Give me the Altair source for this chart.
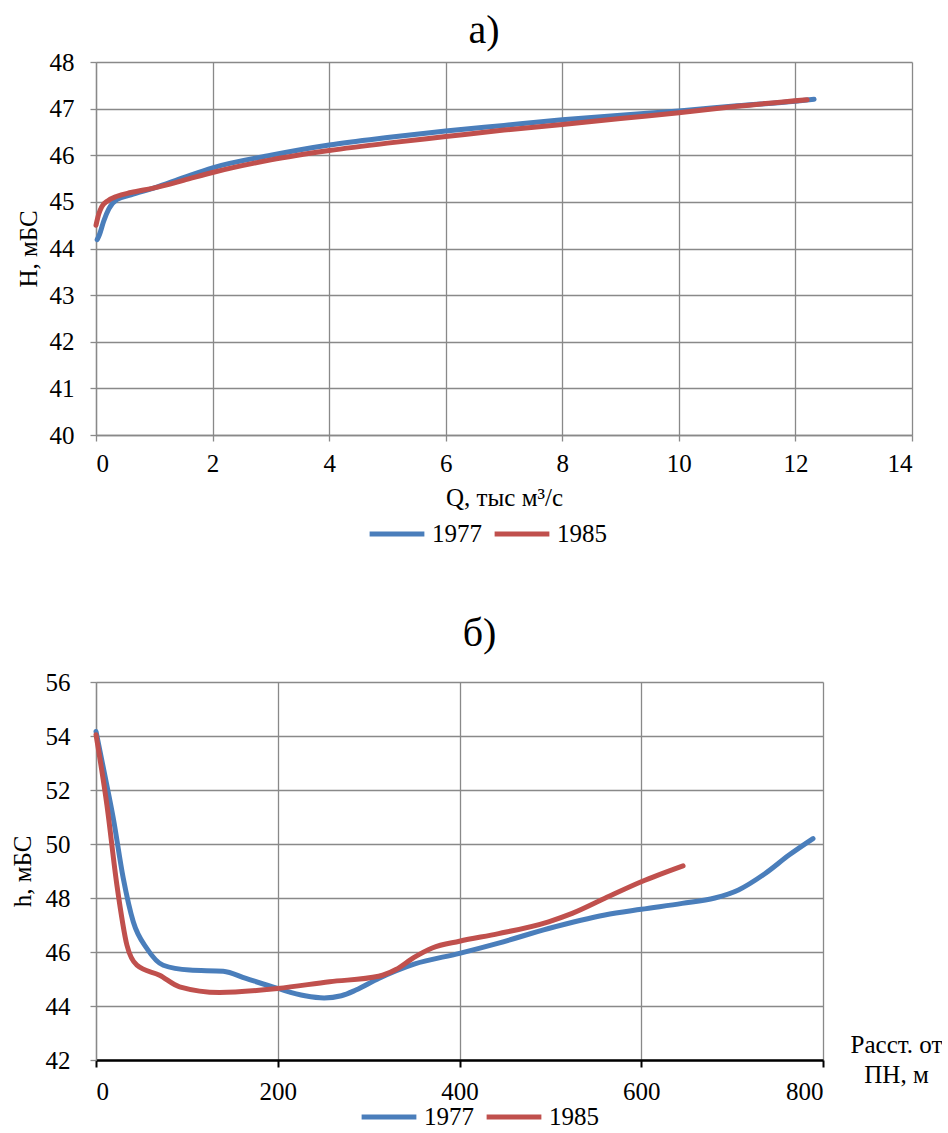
import altair as alt
import pandas as pd

FONT = "Liberation Serif"
BLUE = "#4A7EBB"
RED = "#C0504D"
GRID = "#898989"

# ---- chart a) : H(Q) ----
q_1977 = [0.02, 0.06, 0.13, 0.22, 0.36, 0.6, 1.0, 1.5, 2.0, 3.0, 4.0, 5.0, 6.0,
          7.0, 8.0, 9.0, 10.0, 11.0, 12.0, 12.32]
h_1977 = [44.19, 44.3, 44.58, 44.85, 45.05, 45.15, 45.3, 45.52, 45.73, 46.0,
          46.22, 46.38, 46.52, 46.64, 46.76, 46.86, 46.95, 47.06, 47.16, 47.2]
q_1985 = [0.0, 0.05, 0.1, 0.2, 0.36, 0.6, 1.0, 1.5, 2.0, 3.0, 4.0, 5.0, 6.0,
          7.0, 8.0, 9.0, 10.0, 11.0, 12.2]
h_1985 = [44.5, 44.75, 44.9, 45.02, 45.12, 45.2, 45.3, 45.46, 45.63, 45.9,
          46.1, 46.26, 46.4, 46.54, 46.66, 46.79, 46.91, 47.05, 47.19]

# ---- chart б) : h(distance) ----
d_1977 = [0, 10, 19, 30, 41, 56, 74, 103, 140, 165, 200, 230, 251, 270, 286,
          311, 350, 400, 443, 498, 560, 600, 645, 681, 707, 736, 763, 789]
w_1977 = [54.17, 52.5, 50.96, 48.73, 47.12, 46.13, 45.51, 45.33, 45.29, 45.02,
          44.65, 44.38, 44.3, 44.38, 44.59, 45.02, 45.55, 45.95, 46.33, 46.87,
          47.37, 47.58, 47.8, 48.0, 48.3, 48.9, 49.6, 50.2]
d_1985 = [0, 12, 23, 34, 45, 70, 92, 136, 200, 257, 311, 330, 350, 370, 400,
          443, 498, 524, 560, 600, 646]
w_1985 = [54.05, 51.45, 48.48, 46.26, 45.51, 45.14, 44.71, 44.5, 44.65, 44.9,
          45.1, 45.35, 45.8, 46.15, 46.4, 46.68, 47.12, 47.43, 47.99, 48.6, 49.19]

series = ["1977", "1985"]

top_a = pd.DataFrame({"Q": q_1977, "H": h_1977, "series": "1977"})
top_b = pd.DataFrame({"Q": q_1985, "H": h_1985, "series": "1985"})
bot_a = pd.DataFrame({"D": d_1977, "h": w_1977, "series": "1977"})
bot_b = pd.DataFrame({"D": d_1985, "h": w_1985, "series": "1985"})


def legend(x, y):
    return alt.Legend(title=None, orient="none", legendX=x, legendY=y,
                      direction="horizontal", symbolType="stroke",
                      symbolStrokeWidth=5, symbolSize=3000,
                      labelFont=FONT, labelFontSize=25, labelColor="black",
                      labelOffset=5, columnPadding=2)


def line_layer(df, xf, yf, xscale, yscale, xaxis, yaxis, leg):
    return alt.Chart(df).mark_line(strokeWidth=5, strokeCap="round",
                                   interpolate="monotone").encode(
        x=alt.X(xf, type="quantitative", scale=xscale, axis=xaxis),
        y=alt.Y(yf, type="quantitative", scale=yscale, axis=yaxis),
        color=alt.Color("series:N",
                        scale=alt.Scale(domain=series, range=[BLUE, RED]),
                        legend=leg),
    )


common_axis = dict(labelFont=FONT, labelFontSize=25, labelColor="black",
                   titleFont=FONT, titleFontSize=25, titleFontWeight="normal",
                   titleColor="black", gridColor=GRID, gridWidth=1.3,
                   tickColor=GRID, tickWidth=1.3, domainColor=GRID,
                   domainWidth=1.3)

# top chart
xa = alt.Axis(title="Q, тыс м³/с", values=list(range(0, 15, 2)), tickSize=6,
              labelPadding=10, titlePadding=9, **common_axis)
ya = alt.Axis(title="H, мБС", values=list(range(40, 49)), tickSize=6,
              labelPadding=16, titlePadding=8, **common_axis)
xs = alt.Scale(domain=[0, 14], nice=False)
ys = alt.Scale(domain=[40, 48], nice=False)

top = alt.layer(
    line_layer(top_a, "Q", "H", xs, ys, xa, ya, legend(271, 442)),
    line_layer(top_b, "Q", "H", xs, ys, xa, ya, legend(271, 442)),
).properties(
    width=816, height=373,
    title=alt.TitleParams("а)", font=FONT, fontSize=40, fontWeight="normal",
                          color="black", anchor="middle", frame="group",
                          dx=-20, offset=-1),
)

# bottom chart
bottom_axis = dict(common_axis)
bottom_axis.update(domainColor="black", domainWidth=2.5, tickColor="black",
                   tickWidth=2)
xb = alt.Axis(title=["Расст. от", "ПН, м"], values=list(range(0, 801, 200)),
              tickSize=7, labelPadding=12, titleX=800, titleY=-8,
              titleAlign="center", titleBaseline="alphabetic", titleAngle=0,
              titleLineHeight=30, **bottom_axis)
yb = alt.Axis(title="h, мБС", values=list(range(42, 57, 2)), tickSize=6,
              labelPadding=20, titlePadding=10, **common_axis)
xs2 = alt.Scale(domain=[0, 800], nice=False)
ys2 = alt.Scale(domain=[42, 56], nice=False)

bottom = alt.layer(
    line_layer(bot_a, "D", "h", xs2, ys2, xb, yb, legend(263, 405)),
    line_layer(bot_b, "D", "h", xs2, ys2, xb, yb, legend(263, 405)),
).properties(
    width=727, height=378,
    title=alt.TitleParams("б)", font=FONT, fontSize=40, fontWeight="normal",
                          color="black", anchor="middle", frame="group",
                          dx=20, offset=16),
)

chart = alt.vconcat(top, bottom, spacing=67).resolve_scale(
    color="independent").resolve_legend(color="independent").properties(
    padding={"left": 10, "top": 11, "right": 0, "bottom": 0},
    background="white",
).configure(font=FONT).configure_view(stroke=None).configure_axis(
    labelFont=FONT, titleFont=FONT).configure_legend(labelFont=FONT)

chart.save("out.html", embed_options={"renderer": "svg", "actions": False})
